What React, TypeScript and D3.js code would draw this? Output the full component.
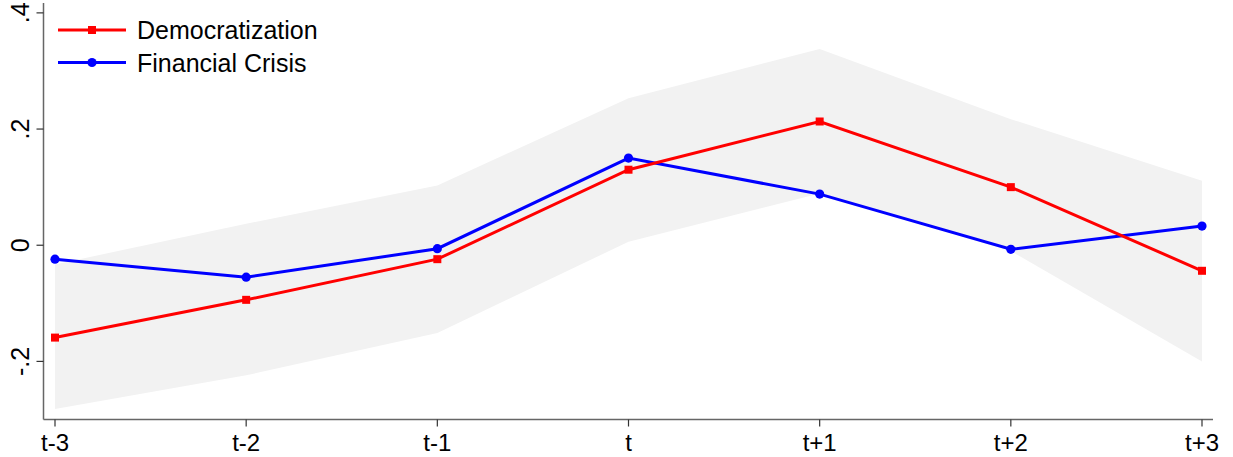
import React from "react";
import * as d3 from "d3";

// Event-time categories and estimates
const periods = ["t-3", "t-2", "t-1", "t", "t+1", "t+2", "t+3"];
const democratization = [-0.159, -0.094, -0.024, 0.130, 0.213, 0.100, -0.044];
const financialCrisis = [-0.024, -0.055, -0.006, 0.150, 0.088, -0.007, 0.033];
// Confidence band around the estimates
const bandUpper = [-0.033, 0.037, 0.103, 0.253, 0.338, 0.217, 0.111];
const bandLower = [-0.282, -0.224, -0.151, 0.006, 0.089, -0.010, -0.200];
const yTicks = [-0.2, 0, 0.2, 0.4];
const yTickLabels = ["-.2", "0", ".2", ".4"];

const W = 1233;
const H = 457;
const FONT = "'Liberation Sans', Arial, Helvetica, sans-serif";

export default function App() {
  const x = d3.scaleLinear().domain([0, periods.length - 1]).range([55, 1202]);
  const y = d3.scaleLinear().domain([-0.3, 0.417]).range([419.5, 3]);

  const axisLeft = 43.5;
  const axisBottom = 419.5;
  const axisRight = 1213;

  const area = d3
    .area<number>()
    .x((_, i) => x(i))
    .y0((_, i) => y(bandLower[i]))
    .y1((d) => y(d));
  const line = d3
    .line<number>()
    .x((_, i) => x(i))
    .y((d) => y(d));

  return (
    <svg
      width={W}
      height={H}
      style={{ position: "absolute", left: 0, top: 0, background: "#fff" }}
      fontFamily={FONT}
    >
      <rect x={0} y={0} width={W} height={H} fill="#fff" />
      {/* confidence band */}
      <path d={area(bandUpper) || ""} fill="#f2f2f2" stroke="none" />

      {/* Financial crisis series */}
      <path d={line(financialCrisis) || ""} fill="none" stroke="#0000ff" strokeWidth={3} />
      {financialCrisis.map((v, i) => (
        <circle key={`fc${i}`} cx={x(i)} cy={y(v)} r={4.6} fill="#0000ff" />
      ))}

      {/* Democratization series */}
      <path d={line(democratization) || ""} fill="none" stroke="#ff0000" strokeWidth={3} />
      {democratization.map((v, i) => (
        <rect key={`dm${i}`} x={x(i) - 4} y={y(v) - 4} width={8} height={8} fill="#ff0000" />
      ))}

      {/* y axis */}
      <line x1={axisLeft} x2={axisLeft} y1={3} y2={axisBottom} stroke="#666" strokeWidth={1.5} />
      {yTicks.map((t, i) => (
        <g key={`yt${i}`}>
          <line x1={axisLeft - 7} x2={axisLeft} y1={y(t)} y2={y(t)} stroke="#333" strokeWidth={1.2} />
          <text
            transform={`translate(${28.5},${y(t)}) rotate(-90)`}
            textAnchor="middle"
            fontSize={25}
            fill="#000"
          >
            {yTickLabels[i]}
          </text>
        </g>
      ))}

      {/* x axis */}
      <line x1={axisLeft} x2={axisRight} y1={axisBottom} y2={axisBottom} stroke="#666" strokeWidth={1.5} />
      {periods.map((p, i) => (
        <g key={`xt${i}`}>
          <line x1={x(i)} x2={x(i)} y1={axisBottom} y2={axisBottom + 7} stroke="#333" strokeWidth={1.2} />
          <text x={x(i)} y={450.5} textAnchor="middle" fontSize={24} fill="#000">
            {p}
          </text>
        </g>
      ))}

      {/* legend */}
      <g>
        <line x1={58} x2={126} y1={30} y2={30} stroke="#ff0000" strokeWidth={3} />
        <rect x={92 - 4} y={30 - 4} width={8} height={8} fill="#ff0000" />
        <text x={137} y={38.5} fontSize={25} fill="#000">Democratization</text>
        <line x1={58} x2={126} y1={62.5} y2={62.5} stroke="#0000ff" strokeWidth={3} />
        <circle cx={92} cy={62.5} r={4.6} fill="#0000ff" />
        <text x={137} y={71.5} fontSize={25} fill="#000">Financial Crisis</text>
      </g>
    </svg>
  );
}
